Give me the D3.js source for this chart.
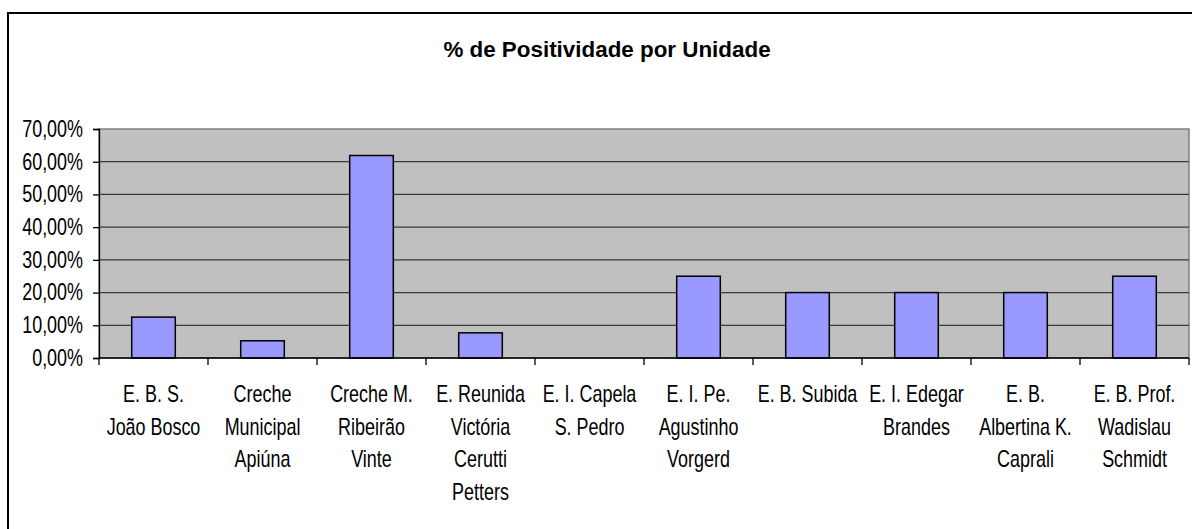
<!DOCTYPE html>
<html>
<head>
<meta charset="utf-8">
<script src="https://cdn.jsdelivr.net/npm/d3@7"></script>
<style>
  html, body { margin: 0; padding: 0; background: #ffffff; }
  svg { display: block; }
</style>
</head>
<body>
<svg id="chart" width="1192" height="529"></svg>
<script>
const title = "% de Positividade por Unidade";
const categories = [
  "E. B. S.\nJoão Bosco",
  "Creche\nMunicipal\nApiúna",
  "Creche M.\nRibeirão\nVinte",
  "E. Reunida\nVictória\nCerutti\nPetters",
  "E. I. Capela\nS. Pedro",
  "E. I. Pe.\nAgustinho\nVorgerd",
  "E. B. Subida",
  "E. I. Edegar\nBrandes",
  "E. B.\nAlbertina K.\nCaprali",
  "E. B. Prof.\nWadislau\nSchmidt"
];
const positivity = [12.5, 5.26, 61.9, 7.69, 0, 25, 20, 20, 20, 25];
const yTicks = [0, 10, 20, 30, 40, 50, 60, 70];

const svg = d3.select("#chart");
const plot = { left: 99, right: 1189, top: 129, bottom: 358 };
const labelFont = "'Liberation Sans', Arial, sans-serif";
const narrow = 0.78;

// outer frame (extends past right and bottom edges)
svg.append("rect")
  .attr("x", 8).attr("y", 13)
  .attr("width", 1300).attr("height", 700)
  .attr("fill", "#ffffff")
  .attr("stroke", "#000000").attr("stroke-width", 2);

// title
svg.append("text")
  .attr("x", 607).attr("y", 57)
  .attr("text-anchor", "middle")
  .attr("font-family", "'Liberation Sans', Arial, sans-serif")
  .attr("font-weight", "bold")
  .attr("font-size", 22.4)
  .attr("fill", "#000")
  .text(title);

const x = d3.scaleBand()
  .domain(categories)
  .range([plot.left, plot.right])
  .paddingInner(0.6)
  .paddingOuter(0.3);

const y = d3.scaleLinear()
  .domain([0, 70])
  .range([plot.bottom, plot.top]);

// plot background
svg.append("rect")
  .attr("x", plot.left).attr("y", plot.top)
  .attr("width", plot.right - plot.left).attr("height", plot.bottom - plot.top)
  .attr("fill", "#c0c0c0")
  .attr("stroke", "#808080").attr("stroke-width", 1.5);

// gridlines
svg.append("g")
  .selectAll("line")
  .data(yTicks.filter(d => d > 0 && d < 70))
  .join("line")
  .attr("x1", plot.left).attr("x2", plot.right)
  .attr("y1", d => y(d)).attr("y2", d => y(d))
  .attr("stroke", "#3a3a3a").attr("stroke-width", 1.3);

// bars
svg.append("g")
  .selectAll("rect")
  .data(positivity)
  .join("rect")
  .attr("x", (d, i) => x(categories[i]))
  .attr("y", d => y(d))
  .attr("width", x.bandwidth())
  .attr("height", d => y(0) - y(d))
  .attr("fill", d => d > 0 ? "#9999ff" : "none")
  .attr("stroke", d => d > 0 ? "#000" : "none")
  .attr("stroke-width", 1.5);

// y axis
const yAxis = d3.axisLeft(y)
  .tickValues(yTicks)
  .tickSize(6)
  .tickPadding(10)
  .tickFormat(d => d3.format(".2f")(d).replace(".", ",") + "%");
const gy = svg.append("g")
  .attr("transform", `translate(${plot.left},0)`)
  .call(yAxis);
gy.select(".domain").attr("stroke", "#000").attr("stroke-width", 1.3);
gy.selectAll(".tick line").attr("stroke", "#000").attr("stroke-width", 1.3);
gy.selectAll(".tick text")
  .attr("font-family", labelFont)
  .attr("font-size", 23)
  .attr("fill", "#000")
  .attr("x", 0)
  .attr("transform", `translate(-16,0) scale(${narrow},1)`);

// x axis (ticks at category boundaries)
const step = x.step();
const boundaries = d3.range(categories.length + 1).map(i => plot.left + i * step);
const gx = svg.append("g");
gx.append("line")
  .attr("x1", plot.left).attr("x2", plot.right)
  .attr("y1", plot.bottom).attr("y2", plot.bottom)
  .attr("stroke", "#000").attr("stroke-width", 1.3);
gx.selectAll("line.tk")
  .data(boundaries)
  .join("line")
  .attr("class", "tk")
  .attr("x1", d => d).attr("x2", d => d)
  .attr("y1", plot.bottom).attr("y2", plot.bottom + 7)
  .attr("stroke", "#000").attr("stroke-width", 1.3);

const labels = svg.append("g")
  .selectAll("text")
  .data(categories)
  .join("text")
  .attr("text-anchor", "middle")
  .attr("font-family", labelFont)
  .attr("font-size", 23)
  .attr("fill", "#000")
  .attr("transform", d => `translate(${x(d) + x.bandwidth() / 2},0) scale(${narrow},1)`);
labels.each(function(d) {
  const t = d3.select(this);
  d.split("\n").forEach((line, k) => {
    t.append("tspan")
      .attr("x", 0)
      .attr("y", 402 + k * 32.7)
      .text(line);
  });
});
</script>
</body>
</html>
